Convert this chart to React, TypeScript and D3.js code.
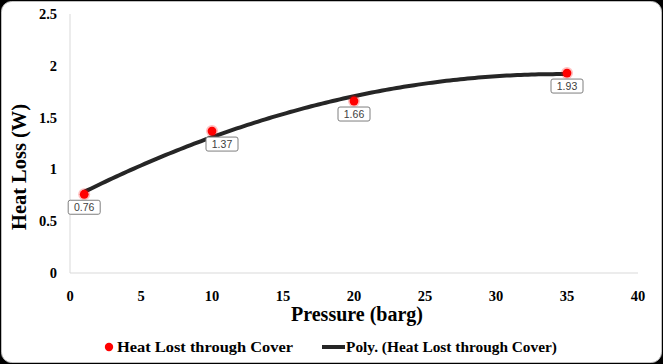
import React from "react";
import * as d3 from "d3";

const pressures = [1, 10, 20, 35];
const heatLoss = [0.76, 1.37, 1.66, 1.93];
const labelTexts = ["0.76", "1.37", "1.66", "1.93"];
const labelDx = [0, 10, 0, 0];
const xTicks = [0, 5, 10, 15, 20, 25, 30, 35, 40];
const yTicks = [0, 0.5, 1, 1.5, 2, 2.5];
const seriesName = "Heat Lost through Cover";
const trendName = "Poly. (Heat Lost through Cover)";

function quadFit(xs: number[], ys: number[]) {
  const S = (p: number) => d3.sum(xs, (x) => Math.pow(x, p));
  const T = (p: number) => d3.sum(xs.map((x, i) => Math.pow(x, p) * ys[i]));
  const M = [
    [S(0), S(1), S(2), T(0)],
    [S(1), S(2), S(3), T(1)],
    [S(2), S(3), S(4), T(2)],
  ];
  for (let i = 0; i < 3; i++) {
    for (let j = i + 1; j < 3; j++) {
      const f = M[j][i] / M[i][i];
      for (let k = i; k < 4; k++) M[j][k] -= f * M[i][k];
    }
  }
  const r = [0, 0, 0];
  for (let i = 2; i >= 0; i--) {
    let s = M[i][3];
    for (let k = i + 1; k < 3; k++) s -= M[i][k] * r[k];
    r[i] = s / M[i][i];
  }
  return (x: number) => r[0] + r[1] * x + r[2] * x * x;
}

export default function App() {
  const W = 663, H = 364;
  const x = d3.scaleLinear().domain([0, 40]).range([70, 638]);
  const y = d3.scaleLinear().domain([0, 2.5]).range([273, 14]);
  const fit = quadFit(pressures, heatLoss);
  const xs = d3.range(pressures[0], pressures[pressures.length - 1] + 0.001, 0.25);
  const line = d3
    .line<number>()
    .x((d) => x(d))
    .y((d) => y(fit(d)))
    .curve(d3.curveLinear);
  const serif = "'Liberation Serif', 'Times New Roman', serif";
  const sans = "'Liberation Sans', Arial, sans-serif";

  return (
    <div style={{ position: "fixed", left: 0, top: 0 }}>
      <svg width={W} height={H} style={{ display: "block" }}>
        <rect x={0} y={0} width={W} height={H} fill="#000" />
        <rect x={1.5} y={1.5} width={W - 3} height={H - 3} rx={10} fill="#fff" stroke="#bfbfbf" strokeWidth={1} />
        <line x1={x(0)} x2={x(0)} y1={y(2.5)} y2={y(0)} stroke="#d9d9d9" strokeWidth={1} />
        <line x1={x(0)} x2={x(40)} y1={y(0)} y2={y(0)} stroke="#d9d9d9" strokeWidth={1} />
        {yTicks.map((t) => (
          <text key={"y" + t} x={57} y={y(t)} dy="0.35em" textAnchor="end" fontFamily={serif} fontWeight="bold" fontSize={14.5} fill="#000">
            {t}
          </text>
        ))}
        {xTicks.map((t) => (
          <text key={"x" + t} x={x(t)} y={296} dy="0.35em" textAnchor="middle" fontFamily={serif} fontWeight="bold" fontSize={14.5} fill="#000">
            {t}
          </text>
        ))}
        <text x={357} y={314} dy="0.35em" textAnchor="middle" fontFamily={serif} fontWeight="bold" fontSize={20} fill="#000" textLength={132} lengthAdjust="spacingAndGlyphs">
          Pressure (barg)
        </text>
        <text transform={`translate(19,167) rotate(-90)`} dy="0.35em" textAnchor="middle" fontFamily={serif} fontWeight="bold" fontSize={20} fill="#000" textLength={126} lengthAdjust="spacingAndGlyphs">
          Heat Loss (W)
        </text>
        <path d={line(xs) || ""} fill="none" stroke="#262626" strokeWidth={4} strokeLinecap="round" />
        {pressures.map((p, i) => (
          <g key={"p" + i}>
            <circle cx={x(p)} cy={y(heatLoss[i])} r={6} fill="#ff0000" opacity={0.25} />
            <circle cx={x(p)} cy={y(heatLoss[i])} r={4.4} fill="#ff0000" />
          </g>
        ))}
        {pressures.map((p, i) => {
          const cx = x(p) + labelDx[i];
          const cy = y(heatLoss[i]) + 13;
          return (
            <g key={"l" + i}>
              <rect x={cx - 16} y={cy - 7} width={32} height={14} rx={2} fill="#fff" stroke="#7f7f7f" strokeWidth={1} />
              <text x={cx} y={cy} dy="0.35em" textAnchor="middle" fontFamily={sans} fontSize={10.5} fill="#404040">
                {labelTexts[i]}
              </text>
            </g>
          );
        })}
        <circle cx={109} cy={347} r={4.2} fill="#ff0000" />
        <text x={117} y={347} dy="0.35em" fontFamily={serif} fontWeight="bold" fontSize={15} fill="#000" textLength={176} lengthAdjust="spacingAndGlyphs">
          {seriesName}
        </text>
        <line x1={322} x2={345} y1={347} y2={347} stroke="#262626" strokeWidth={4} />
        <text x={346} y={347} dy="0.35em" fontFamily={serif} fontWeight="bold" fontSize={15} fill="#000" textLength={211} lengthAdjust="spacingAndGlyphs">
          {trendName}
        </text>
      </svg>
    </div>
  );
}
